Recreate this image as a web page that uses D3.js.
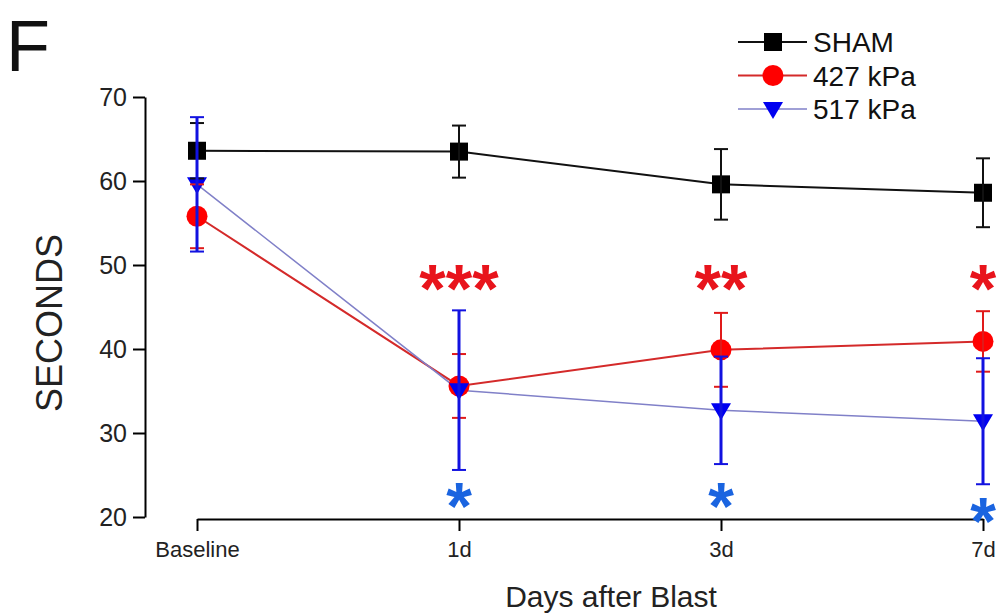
<!DOCTYPE html>
<html>
<head>
<meta charset="utf-8">
<script src="https://cdn.jsdelivr.net/npm/d3@7"></script>
<style>
  body { margin: 0; background: #fff; }
  svg { display: block; font-family: "Liberation Sans", Arial, sans-serif; }
  .axis path, .axis line { stroke: #000; stroke-width: 2; }
  .axis text { fill: #222; }
</style>
</head>
<body>
<svg width="997" height="615"></svg>
<script>
const days = ['Baseline', '1d', '3d', '7d'];
const yTicks = [20, 30, 40, 50, 60, 70];

const shamMean = [63.6, 63.5, 59.6, 58.6];
const shamSem = [3.3, 3.1, 4.2, 4.1];
const kpa427Mean = [55.8, 35.6, 39.9, 40.9];
const kpa427Sem = [3.8, 3.8, 4.4, 3.6];
const kpa517Mean = [59.6, 35.1, 32.7, 31.4];
const kpa517Sem = [8.0, 9.5, 6.4, 7.5];

// significance marks
const redStars = [['1d', '***'], ['3d', '**'], ['7d', '*']];
const blueStars = [['1d', '*'], ['3d', '*'], ['7d', '*']];

const svg = d3.select('svg');

const x = d3.scalePoint()
    .domain(days)
    .range([197, 983]);

const y = d3.scaleLinear()
    .domain([20, 70])
    .range([517, 97]);

// axes
svg.append('g')
    .attr('class', 'axis')
    .attr('transform', 'translate(145,0)')
    .call(d3.axisLeft(y).tickValues(yTicks).tickSize(12).tickSizeOuter(0).tickPadding(6))
    .call(g => g.selectAll('text').attr('font-size', 25));

svg.append('g')
    .attr('class', 'axis')
    .attr('transform', 'translate(0,519)')
    .call(d3.axisBottom(x).tickSize(12).tickSizeOuter(0).tickPadding(10))
    .call(g => g.selectAll('text').attr('font-size', 22));

svg.selectAll('.axis').selectAll('path.domain').attr('fill', 'none');

svg.append('text')
    .attr('transform', 'translate(62,323) rotate(-90)')
    .attr('text-anchor', 'middle')
    .attr('font-size', 36)
    .attr('fill', '#222')
    .text('SECONDS');

svg.append('text')
    .attr('x', 611)
    .attr('y', 607)
    .attr('text-anchor', 'middle')
    .attr('font-size', 30)
    .attr('fill', '#222')
    .text('Days after Blast');

svg.append('text')
    .attr('x', 6)
    .attr('y', 71)
    .attr('font-size', 72)
    .attr('fill', '#111')
    .text('F');

const series = [
    { name: 'SHAM', mean: shamMean, sem: shamSem, line: '#111', lw: 2, bar: '#111', bw: 2, fill: '#000', shape: 'square' },
    { name: '427 kPa', mean: kpa427Mean, sem: kpa427Sem, line: '#d42a2a', lw: 2, bar: '#e01a1a', bw: 2, fill: '#ff0000', shape: 'circle' },
    { name: '517 kPa', mean: kpa517Mean, sem: kpa517Sem, line: '#8080c8', lw: 1.5, bar: '#1212e0', bw: 3, fill: '#0000f0', shape: 'triangle' }
];

function marker(sel, s) {
    if (s.shape === 'square') {
        sel.append('rect').attr('x', -9).attr('y', -9).attr('width', 18).attr('height', 18).attr('fill', s.fill);
    } else if (s.shape === 'circle') {
        sel.append('circle').attr('r', 10.5).attr('fill', s.fill);
    } else {
        sel.append('path').attr('d', 'M-10,-7L10,-7L0,10Z').attr('fill', s.fill);
    }
}

const line = d3.line().x((d, i) => x(days[i])).y(d => y(d));

series.forEach(s => {
    svg.append('path')
        .attr('d', line(s.mean))
        .attr('fill', 'none')
        .attr('stroke', s.line)
        .attr('stroke-width', s.lw);
});

series.forEach(s => {
    days.forEach((d, i) => {
        const g = svg.append('g').attr('transform', `translate(${x(d)},${y(s.mean[i])})`);
        marker(g, s);
    });
});

const cap = 7;
series.forEach(s => {
    const g = svg.append('g').attr('stroke', s.bar).attr('stroke-width', s.bw);
    days.forEach((d, i) => {
        const cx = x(d);
        const top = y(s.mean[i] + s.sem[i]);
        const bot = y(s.mean[i] - s.sem[i]);
        g.append('line').attr('x1', cx).attr('x2', cx).attr('y1', top).attr('y2', bot);
        g.append('line').attr('x1', cx - cap).attr('x2', cx + cap).attr('y1', top).attr('y2', top).attr('stroke-width', 2);
        g.append('line').attr('x1', cx - cap).attr('x2', cx + cap).attr('y1', bot).attr('y2', bot).attr('stroke-width', 2);
    });
});

// significance stars
svg.selectAll('.rstar')
    .data(redStars)
    .enter()
    .append('text')
    .attr('x', d => x(d[0]))
    .attr('y', y(44.4))
    .attr('text-anchor', 'middle')
    .attr('font-size', 68)
    .attr('font-weight', 'bold')
    .attr('fill', '#e8141c')
    .text(d => d[1]);

svg.selectAll('.bstar')
    .data(blueStars)
    .enter()
    .append('text')
    .attr('x', d => x(d[0]))
    .attr('y', (d, i) => y(i === 2 ? 16.8 : 18.6))
    .attr('text-anchor', 'middle')
    .attr('font-size', 66)
    .attr('font-weight', 'bold')
    .attr('fill', '#1a64e0')
    .text(d => d[1]);

// legend
const legend = svg.append('g');
series.forEach((s, i) => {
    const ly = 42 + i * 33.5;
    legend.append('line')
        .attr('x1', 738).attr('x2', 807).attr('y1', ly).attr('y2', ly)
        .attr('stroke', s.line).attr('stroke-width', s.lw);
    const g = legend.append('g').attr('transform', `translate(773,${ly})`);
    marker(g, s);
    legend.append('text')
        .attr('x', 813).attr('y', ly + 10)
        .attr('font-size', 28)
        .attr('fill', '#111')
        .text(s.name);
});
</script>
</body>
</html>
